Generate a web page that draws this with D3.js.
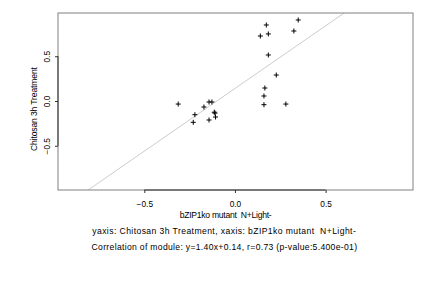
<!DOCTYPE html>
<html><head><meta charset="utf-8">
<script src="https://cdn.jsdelivr.net/npm/d3@7"></script>
<style>body{margin:0;background:#fff}svg{display:block}text{font-family:"Liberation Sans",Arial,sans-serif;fill:#000;white-space:pre}</style>
</head><body>
<script>
const xValues = [-0.313,-0.221,-0.230,-0.171,-0.143,-0.127,-0.114,-0.110,-0.107,-0.143,0.165,0.160,0.160,0.281,0.173,0.349,0.140,0.184,0.325,0.184,0.228];
const yValues = [-0.034,-0.153,-0.238,-0.067,-0.011,-0.011,-0.125,-0.135,-0.179,-0.212,0.145,0.056,-0.041,-0.034,0.849,0.905,0.726,0.749,0.782,0.514,0.290];
const xTicks = [-0.5, 0, 0.5];
const yTicks = [-0.5, 0, 0.5];
const fitSlope = 1.40, fitIntercept = 0.14;
const xTitle = "bZIP1ko mutant  N+Light-";
const yTitle = "Chitosan 3h Treatment";
const caption1 = "yaxis: Chitosan 3h Treatment, xaxis: bZIP1ko mutant  N+Light-";
const caption2 = "Correlation of module: y=1.40x+0.14, r=0.73 (p-value:5.400e-01)";

const W=432,H=288;
const svg=d3.select("body").append("svg").attr("width",W).attr("height",H);
const L=58,R=413,T=13,B=190;
const x=d3.scaleLinear().domain([-0.976,0.982]).range([L,R]);
const y=d3.scaleLinear().domain([-0.994,0.983]).range([B,T]);

// regression line, clipped to the plot region
svg.append("clipPath").attr("id","c").append("rect").attr("x",L).attr("y",T).attr("width",R-L).attr("height",B-T);
const xs=[-1.2,1.2];
svg.append("line").attr("clip-path","url(#c)")
  .attr("x1",x(xs[0])).attr("y1",y(fitSlope*xs[0]+fitIntercept))
  .attr("x2",x(xs[1])).attr("y2",y(fitSlope*xs[1]+fitIntercept))
  .attr("stroke","#cccccc").attr("stroke-width",1);

// box
svg.append("rect").attr("x",L).attr("y",T).attr("width",R-L).attr("height",B-T)
  .attr("fill","none").attr("stroke","#808080").attr("stroke-width",1);

// axes
const fmt=d=>d3.format(".1f")(d);
const xa=svg.append("g").attr("transform",`translate(0,${B})`)
  .call(d3.axisBottom(x).tickValues(xTicks).tickFormat(fmt).tickSizeOuter(0).tickSize(3));
const ya=svg.append("g").attr("transform",`translate(${L},0)`)
  .call(d3.axisLeft(y).tickValues(yTicks).tickFormat(fmt).tickSizeOuter(0).tickSize(3));
[xa,ya].forEach(g=>{g.select(".domain").remove();g.selectAll("line").attr("stroke","#333");
  g.selectAll("text").attr("font-size",8.3).attr("font-family","Liberation Sans, Arial, sans-serif").attr("fill","#000");});
svg.append("line").attr("x1",x(xTicks[0])).attr("x2",x(xTicks[2])).attr("y1",B).attr("y2",B).attr("stroke","#333");
svg.append("line").attr("y1",y(yTicks[0])).attr("y2",y(yTicks[2])).attr("x1",L).attr("x2",L).attr("stroke","#333");
ya.selectAll(".tick text").attr("x",0).attr("dy",null).attr("text-anchor","middle")
  .attr("transform","translate(-8,0) rotate(-90)");
xa.selectAll(".tick text").attr("y",16.5).attr("dy",null);

// points
const g=svg.append("g");
xValues.forEach((v,i)=>{
  const cx=x(v),cy=y(yValues[i]);
  g.append("path").attr("d",`M${cx-2.5},${cy}H${cx+2.5}M${cx},${cy-2.5}V${cy+2.5}`).attr("stroke","#000").attr("stroke-width",1);
});

// titles
function txt(s,xp,yp,len){
  return svg.append("text").attr("x",xp).attr("y",yp).attr("text-anchor","middle").attr("font-size",8.6)
    .attr("textLength",len).attr("lengthAdjust","spacing").text(s);
}
txt(xTitle,225.7,217.5,92);
txt(caption1,224,234,263.5);
txt(caption2,224.3,250,265.5);
svg.append("text").attr("transform",`translate(37,109) rotate(-90)`).attr("text-anchor","middle").attr("font-size",8.6)
  .attr("textLength",84).attr("lengthAdjust","spacing").text(yTitle);
</script>
</body></html>
